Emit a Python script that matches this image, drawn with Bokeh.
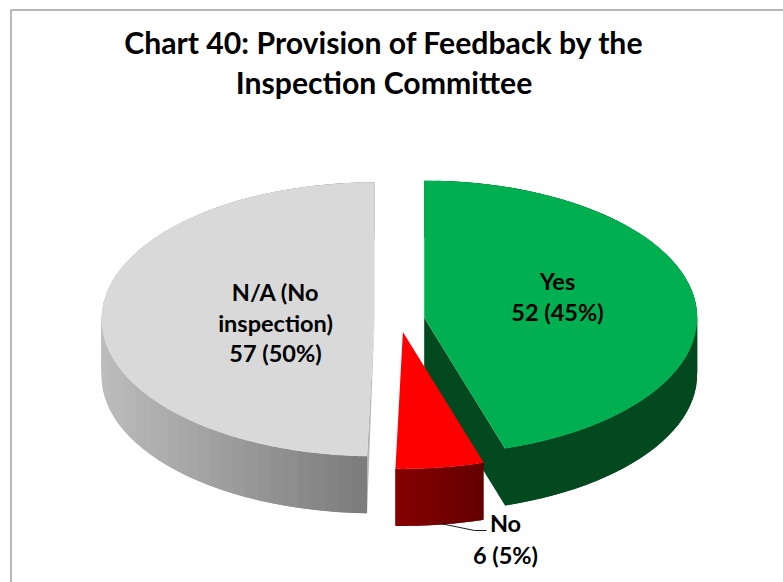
import numpy as np
from bokeh.plotting import figure
from bokeh.models import Range1d
from bokeh.core.properties import value
from bokeh.embed import file_html
from bokeh.resources import INLINE

title_lines = ["Chart 40: Provision of Feedback by the", "Inspection Committee"]
categories = ["Yes", "No", "N/A (No inspection)"]
counts = [52, 6, 57]
category_lines = [["Yes"], ["No"], ["N/A (No", "inspection)"]]
top_colors = ["#00b050", "#ff0000", "#d9d9d9"]
side_left = ["#03491f", "#860000", "#bdbdbd"]
side_right = ["#03491f", "#640000", "#7b7b7b"]
cut_colors = ["#03491f", "#640000", "#b4b4b4"]

W, H = 783, 582
p = figure(width=W, height=H, output_backend="svg", toolbar_location=None,
           x_range=Range1d(0, W), y_range=Range1d(H, 0),
           min_border=0, outline_line_color=None, background_fill_color="white")
p.axis.visible = False
p.grid.visible = False

# Pie geometry
CX, CY, RX, RY, DEPTH, EXPLODE = 399, 319, 273, 137, 57, 25
total = sum(counts)
shares = np.array(counts) / total
ends = np.cumsum(shares) * 2 * np.pi
starts = ends - shares * 2 * np.pi


def hex_rgb(c):
    return np.array([int(c[i:i + 2], 16) for i in (1, 3, 5)], float)


def rim(ax, ay, t, dz=0.0):
    return ax + RX * np.sin(t), ay - RY * np.cos(t) + dz


def draw_slice(i):
    mid = (starts[i] + ends[i]) / 2
    ax, ay = CX + EXPLODE * np.sin(mid), CY - EXPLODE * 0.5 * np.cos(mid)
    ts = np.linspace(starts[i], ends[i], 241)
    x0, y0 = rim(ax, ay, ts)
    x1, y1 = rim(ax, ay, ts, DEPTH)

    # cut faces
    if i == 2:
        xa, ya = rim(ax, ay, starts[i])
        xb, yb = rim(ax, ay, starts[i], DEPTH)
        p.patch([ax, xa, xb], [ay, ya, yb], fill_color=cut_colors[i], line_color=None)
    elif i == 0:
        xa, ya = rim(ax, ay, ends[i])
        xb, yb = rim(ax, ay, ends[i], DEPTH)
        p.patch([ax, xa, xb, ax], [ay, ya, yb, ay + DEPTH],
                fill_color=cut_colors[i], line_color=None)

    # outer wall as strips, shaded by horizontal position; each overlaps the next
    lo, hi = x0.min(), x0.max()
    cl, cr = hex_rgb(side_left[i]), hex_rgb(side_right[i])
    step = 4
    order = range(0, len(ts) - 1, step)
    for k in (order if i != 2 else reversed(order)):
        e = min(k + step, len(ts) - 1)
        if i == 2:
            b = max(k - step, 0)
        else:
            b = k
            e = min(k + 2 * step, len(ts) - 1)
        f = (x0[k] - lo) / (hi - lo)
        rgb = cl + (cr - cl) * f
        col = "#%02x%02x%02x" % tuple(int(round(v)) for v in rgb)
        sx = [x0[b], x0[e], x1[e], x1[b]]
        sy = [y0[b], y0[e], y1[e], y1[b]]
        p.patch(sx, sy, fill_color=col, line_color=None)

    # top face
    p.patch(np.r_[ax, x0], np.r_[ay, y0], fill_color=top_colors[i], line_color=None)


for i in (2, 0, 1):
    draw_slice(i)

# Chart frame, running off the right and bottom of the page
p.line([10.5, 10.5, 783], [582, 9.5, 9.5], line_color="#a0a0a0", line_width=1.5)

# Leader line for the small slice
p.line([440, 474, 486], [523, 530, 530], line_color="#1a1a1a", line_width=1)

FONT = value("Lato")


def label(x, y, s, size):
    p.text([x], [y], text=[s], text_font=FONT, text_font_style="bold",
           text_font_size=size, text_align="center", text_baseline="middle",
           text_color="#000000")


pct = [f"{c} ({round(100 * c / total)}%)" for c in counts]

label(383.5, 41, title_lines[0], "30.2px")
label(383.5, 81, title_lines[1], "30.2px")

label(557, 280, category_lines[0][0], "23.5px")
label(557, 311, pct[0], "23.5px")
label(505, 522, category_lines[1][0], "23.5px")
label(505, 554, pct[1], "23.5px")
label(275, 291, category_lines[2][0], "23.5px")
label(275, 322, category_lines[2][1], "23.5px")
label(275, 352, pct[2], "23.5px")

open("out.html", "w").write(file_html(p, INLINE))
